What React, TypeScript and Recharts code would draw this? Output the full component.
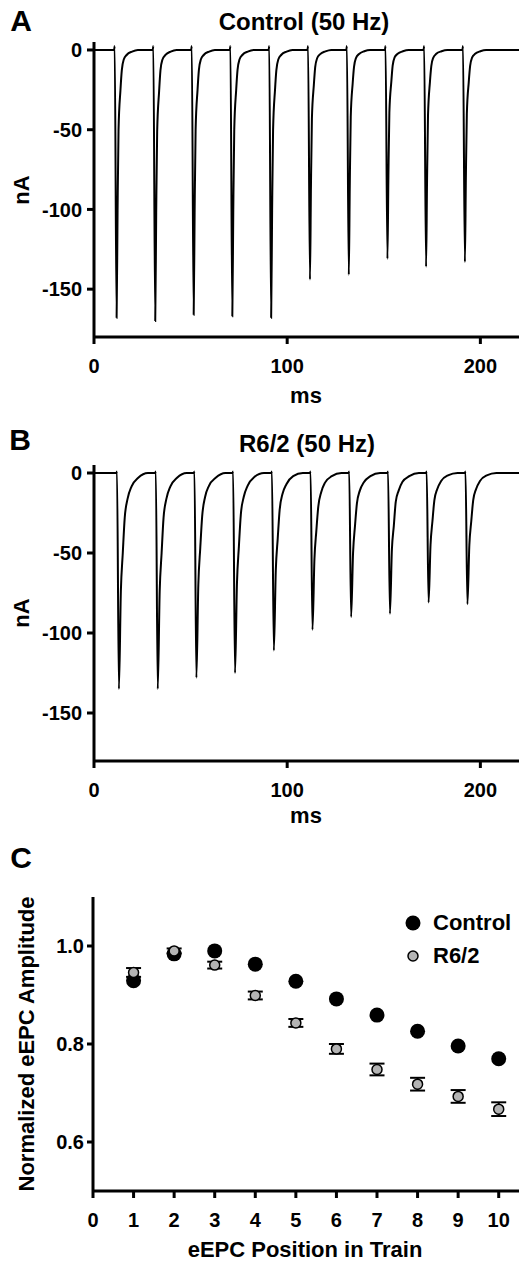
import React from 'react';
import { LineChart, Line, XAxis, YAxis, ScatterChart, Scatter, ErrorBar } from 'recharts';

const FONT = '"Liberation Sans", Arial, Helvetica, sans-serif';

// A: control EPC train at 50 Hz, [ms, nA]
const controlTrace: [number, number][] = [
  [0, 0],
  [10.4, 0], [10.7, 2.5], [11.7, -168], [12.2, -101], [12.7, -50], [13.7, -25], [14.4, -12.6], [15.4, -6], [17.0, -3], [19.7, -1], [22.7, 0],
  [30.4, 0], [30.7, 2.5], [31.7, -170], [32.2, -102], [32.7, -51], [33.7, -26], [34.4, -12.8], [35.4, -6.1], [37.0, -3.1], [39.7, -1], [42.7, 0],
  [50.3, 0], [50.6, 2.5], [51.6, -166], [52.1, -100], [52.6, -50], [53.6, -25], [54.3, -12.5], [55.3, -6], [56.9, -3], [59.6, -1], [62.6, 0],
  [70.3, 0], [70.6, 2.5], [71.6, -167], [72.1, -100], [72.6, -50], [73.6, -25], [74.3, -12.5], [75.3, -6], [76.9, -3], [79.6, -1], [82.6, 0],
  [90.4, 0], [90.7, 2.5], [91.7, -168], [92.2, -101], [92.7, -50], [93.7, -25], [94.4, -12.6], [95.4, -6], [97.0, -3], [99.7, -1], [102.7, 0],
  [110.5, 0], [110.8, 2.5], [111.8, -144], [112.3, -86], [112.8, -43], [113.8, -22], [114.5, -10.8], [115.5, -5.2], [117.1, -2.6], [119.8, -0.9], [122.8, 0],
  [130.6, 0], [130.9, 2.5], [131.9, -141], [132.4, -85], [132.9, -42], [133.9, -21], [134.6, -10.6], [135.6, -5.1], [137.2, -2.5], [139.9, -0.8], [142.9, 0],
  [150.6, 0], [150.9, 2.5], [151.9, -131], [152.4, -79], [152.9, -39], [153.9, -20], [154.6, -9.8], [155.6, -4.7], [157.2, -2.4], [159.9, -0.8], [162.9, 0],
  [170.6, 0], [170.9, 2.5], [171.9, -136], [172.4, -82], [172.9, -41], [173.9, -20], [174.6, -10.2], [175.6, -4.9], [177.2, -2.4], [179.9, -0.8], [182.9, 0],
  [190.7, 0], [191.0, 2.5], [192.0, -133], [192.5, -80], [193.0, -40], [194.0, -20], [194.7, -10], [195.7, -4.8], [197.3, -2.4], [200.0, -0.8], [203.0, 0],
  [220, 0],
];

// B: R6/2 EPC train at 50 Hz
const r62Trace: [number, number][] = [
  [0, 0],
  [11.6, 0], [11.9, 1], [12.9, -135], [13.9, -74], [14.9, -50], [15.9, -28], [17.4, -16], [19.4, -8.5], [22.9, -3], [27.9, 0],
  [31.7, 0], [32.0, 1], [33.0, -135], [34.0, -74], [35.0, -50], [36.0, -28], [37.5, -16], [39.5, -8.5], [43.0, -3], [48.0, 0],
  [51.7, 0], [52.0, 1], [53.0, -128], [54.0, -70], [55.0, -47], [56.0, -27], [57.5, -15], [59.5, -8], [63.0, -3], [68.0, 0],
  [71.7, 0], [72.0, 1], [73.0, -125], [74.0, -69], [75.0, -46], [76.0, -26], [77.5, -15], [79.5, -8], [83.0, -2.5], [88.0, 0],
  [91.8, 0], [92.1, 1], [93.1, -111], [94.1, -61], [95.1, -41], [96.1, -23], [97.6, -13], [99.6, -7], [103.1, -2], [108.1, 0],
  [111.8, 0], [112.1, 1], [113.1, -98], [114.1, -54], [115.1, -36], [116.1, -21], [117.6, -12], [119.6, -6], [123.1, -2], [128.1, 0],
  [131.8, 0], [132.1, 1], [133.1, -90], [134.1, -50], [135.1, -33], [136.1, -19], [137.6, -11], [139.6, -6], [143.1, -2], [148.1, 0],
  [151.9, 0], [152.2, 1], [153.2, -88], [154.2, -48], [155.2, -33], [156.2, -18], [157.7, -11], [159.7, -5.5], [163.2, -2], [168.2, 0],
  [171.9, 0], [172.2, 1], [173.2, -81], [174.2, -45], [175.2, -30], [176.2, -17], [177.7, -10], [179.7, -5], [183.2, -1.5], [188.2, 0],
  [192.0, 0], [192.3, 1], [193.3, -82], [194.3, -45], [195.3, -30], [196.3, -17], [197.8, -10], [199.8, -5], [203.3, -1.5], [208.3, 0],
  [220, 0],
];

const msTicks = [0, 100, 200];
const nATicks = [-150, -100, -50, 0];

// C: normalized amplitude by position in train
const positions = [1, 2, 3, 4, 5, 6, 7, 8, 9, 10];
const controlAmp = [0.929, 0.984, 0.99, 0.963, 0.928, 0.892, 0.859, 0.826, 0.796, 0.77];
const controlSem = [0.006, 0.006, 0.006, 0.006, 0.006, 0.006, 0.007, 0.007, 0.008, 0.009];
const r62Amp = [0.946, 0.99, 0.961, 0.899, 0.843, 0.79, 0.748, 0.718, 0.693, 0.667];
const r62Sem = [0.009, 0.005, 0.007, 0.008, 0.008, 0.01, 0.012, 0.013, 0.013, 0.014];
const positionTicks = [0, 1, 2, 3, 4, 5, 6, 7, 8, 9, 10];
const ampTicks = [0.6, 0.8, 1.0];

const tickStyle = { fill: '#000', fontSize: 20, fontWeight: 700, fontFamily: FONT };
const axisStroke = { stroke: '#000', strokeWidth: 3 };

function Txt({ x, y, size, rotate, children }: { x: number; y: number; size: number; rotate?: boolean; children: React.ReactNode }) {
  return (
    <div
      style={{
        position: 'absolute',
        left: x,
        top: y,
        transform: `translate(-50%, -50%)${rotate ? ' rotate(-90deg)' : ''}`,
        fontFamily: FONT,
        fontWeight: 700,
        fontSize: size,
        lineHeight: 1,
        whiteSpace: 'nowrap',
        color: '#000',
      }}
    >
      {children}
    </div>
  );
}

function TracePanel({ top, trace, marginTop, marginBottom }: { top: number; trace: [number, number][]; marginTop: number; marginBottom: number }) {
  const data = trace.map(([t, v]) => ({ t, v }));
  return (
    <div style={{ position: 'absolute', left: 0, top }}>
      <LineChart width={519} height={400} data={data} margin={{ top: marginTop, right: 0, bottom: marginBottom, left: 0 }}>
        <XAxis
          dataKey="t"
          type="number"
          domain={[0, 220]}
          ticks={msTicks}
          height={40}
          tick={tickStyle}
          tickSize={7}
          tickMargin={15}
          axisLine={axisStroke}
          tickLine={axisStroke}
        />
        <YAxis
          type="number"
          domain={[-180, 5]}
          ticks={nATicks}
          width={94}
          tick={tickStyle}
          tickSize={7}
          tickMargin={5}
          axisLine={axisStroke}
          tickLine={axisStroke}
        />
        <Line type="monotone" dataKey="v" stroke="#000" strokeWidth={2} dot={false} isAnimationActive={false} />
      </LineChart>
    </div>
  );
}

export default function App() {
  const controlPts = positions.map((x, i) => ({ x, y: controlAmp[i], err: controlSem[i] }));
  const r62Pts = positions.map((x, i) => ({ x, y: r62Amp[i], err: r62Sem[i] }));

  return (
    <div style={{ position: 'absolute', left: 0, top: 0, width: 519, height: 1264, background: '#fff', overflow: 'hidden' }}>
      {/* A */}
      <TracePanel top={0} trace={controlTrace} marginTop={42} marginBottom={23} />
      <Txt x={21} y={21} size={30}>A</Txt>
      <Txt x={304} y={22} size={24}>Control (50 Hz)</Txt>
      <Txt x={22} y={190} size={22} rotate>nA</Txt>
      <Txt x={306} y={396} size={22}>ms</Txt>

      {/* B */}
      <TracePanel top={420} trace={r62Trace} marginTop={45} marginBottom={19} />
      <Txt x={20} y={440} size={30}>B</Txt>
      <Txt x={307} y={444} size={24}>R6/2 (50 Hz)</Txt>
      <Txt x={22} y={613} size={22} rotate>nA</Txt>
      <Txt x={306} y={816} size={22}>ms</Txt>

      {/* C */}
      <div style={{ position: 'absolute', left: 0, top: 840 }}>
        <ScatterChart width={519} height={400} margin={{ top: 57, right: 0, bottom: 9, left: 0 }}>
          <XAxis
            dataKey="x"
            type="number"
            domain={[0, 10.5]}
            ticks={positionTicks}
            height={40}
            tick={tickStyle}
            tickSize={7}
            tickMargin={15}
            axisLine={axisStroke}
            tickLine={axisStroke}
          />
          <YAxis
            dataKey="y"
            type="number"
            domain={[0.5, 1.1]}
            ticks={ampTicks}
            tickFormatter={(v: number) => v.toFixed(1)}
            width={93}
            tick={tickStyle}
            tickSize={6}
            tickMargin={3}
            axisLine={axisStroke}
            tickLine={axisStroke}
          />
          <Scatter
            name="Control"
            data={controlPts}
            isAnimationActive={false}
            shape={(p: any) => <circle cx={p.cx} cy={p.cy} r={7.5} fill="#000" />}
          >
            <ErrorBar dataKey="err" direction="y" width={5} stroke="#000" strokeWidth={2} />
          </Scatter>
          <Scatter
            name="R6/2"
            data={r62Pts}
            isAnimationActive={false}
            shape={(p: any) => <circle cx={p.cx} cy={p.cy} r={5} fill="#b4b4b4" stroke="#000" strokeWidth={1.5} />}
          >
            <ErrorBar dataKey="err" direction="y" width={7.5} stroke="#000" strokeWidth={2} />
          </Scatter>
        </ScatterChart>
      </div>
      <Txt x={21} y={858} size={30}>C</Txt>
      <Txt x={27} y={1044} size={22} rotate>Normalized eEPC Amplitude</Txt>
      <Txt x={305} y={1250} size={22}>eEPC Position in Train</Txt>

      {/* legend */}
      <svg style={{ position: 'absolute', left: 400, top: 910 }} width={26} height={60}>
        <circle cx={13} cy={13} r={7.5} fill="#000" />
        <circle cx={13} cy={46} r={5} fill="#b4b4b4" stroke="#000" strokeWidth={1.5} />
      </svg>
      <div style={{ position: 'absolute', left: 433, top: 923, transform: 'translateY(-50%)', fontFamily: FONT, fontWeight: 700, fontSize: 22, lineHeight: 1 }}>
        Control
      </div>
      <div style={{ position: 'absolute', left: 433, top: 956, transform: 'translateY(-50%)', fontFamily: FONT, fontWeight: 700, fontSize: 22, lineHeight: 1 }}>
        R6/2
      </div>
    </div>
  );
}
